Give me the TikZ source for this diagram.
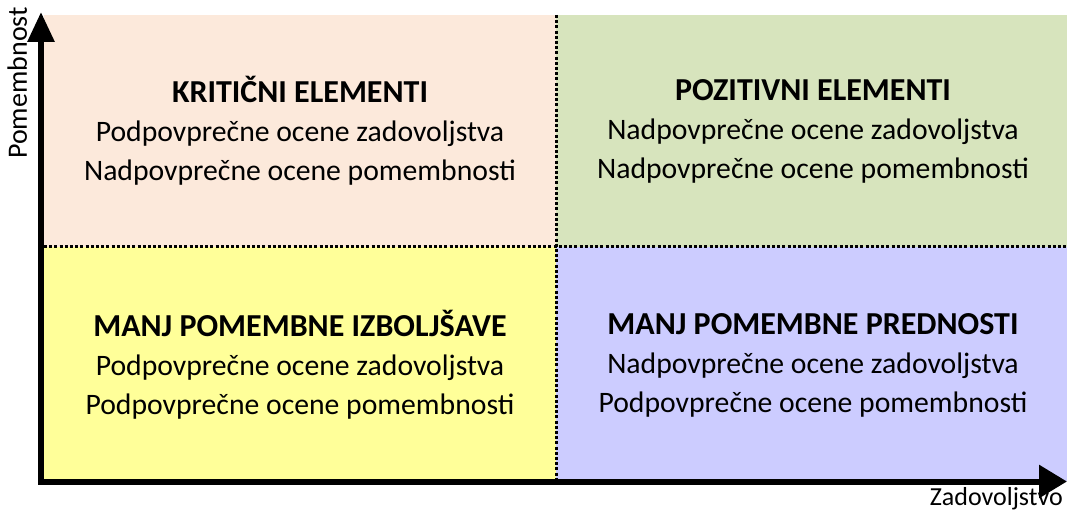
\documentclass[tikz,border=0pt]{standalone}
\usepackage{fontspec}
\setmainfont{Carlito}
\usetikzlibrary{arrows.meta}
\definecolor{qpeach}{RGB}{252,233,219}
\definecolor{qgreen}{RGB}{215,228,189}
\definecolor{qyellow}{RGB}{255,255,153}
\definecolor{qblue}{RGB}{204,204,255}
\newcommand{\qtitle}[1]{{\fontsize{32}{39}\selectfont\bfseries #1}}
\tikzset{
  qtext/.style={align=center, font=\fontsize{29.7}{39}\selectfont, inner sep=0pt},
  divider/.style={line width=3pt, dash pattern=on 3pt off 2.2pt},
  axis/.style={line width=6pt, line join=miter, {Triangle[length=30pt,width=26pt]}-{Triangle[length=28pt,width=32pt]}},
  axlabel/.style={inner sep=0pt}
}
\begin{document}
\begin{tikzpicture}[x=1pt,y=-1pt]
\useasboundingbox (0,0) rectangle (1067,510);
% quadrants
\fill[qpeach] (44,15) rectangle (556,247);
\fill[qgreen] (556,15) rectangle (1067,247);
\fill[qyellow] (44,247) rectangle (556,481);
\fill[qblue] (556,247) rectangle (1067,481);
\coordinate (tl) at (300,131);
\coordinate (tr) at (813,131);
\coordinate (bl) at (300,365);
\coordinate (br) at (813,365);
\node[qtext] (kriticni) at (tl) {\qtitle{KRITIČNI ELEMENTI}\\Podpovprečne ocene zadovoljstva\\Nadpovprečne ocene pomembnosti};
\node[qtext] (pozitivni) at (tr) {\qtitle{POZITIVNI ELEMENTI}\\Nadpovprečne ocene zadovoljstva\\Nadpovprečne ocene pomembnosti};
\node[qtext] (izboljsave) at (bl) {\qtitle{MANJ POMEMBNE IZBOLJŠAVE}\\Podpovprečne ocene zadovoljstva\\Podpovprečne ocene pomembnosti};
\node[qtext] (prednosti) at (br) {\qtitle{MANJ POMEMBNE PREDNOSTI}\\Nadpovprečne ocene zadovoljstva\\Podpovprečne ocene pomembnosti};
% dividers
\coordinate (vtop) at (556,15);
\coordinate (vbot) at (556,481);
\coordinate (hleft) at (44,247);
\coordinate (hright) at (1067,247);
\draw[divider] (vtop) -- (vbot);
\draw[divider] (hleft) -- (hright);
% axes
\coordinate (ytip) at (41,12);
\coordinate (origin) at (41,481.5);
\coordinate (xtip) at (1067,481.5);
\draw[axis] (ytip) -- (origin) -- (xtip);
\node[axlabel, font=\fontsize{28}{30}\selectfont, rotate=90, anchor=base east] (ylab) at (27,7) {Pomembnost};
\node[axlabel, font=\fontsize{26}{30}\selectfont, anchor=base east] (xlab) at (1063,505) {Zadovoljstvo};
\end{tikzpicture}
\end{document}
